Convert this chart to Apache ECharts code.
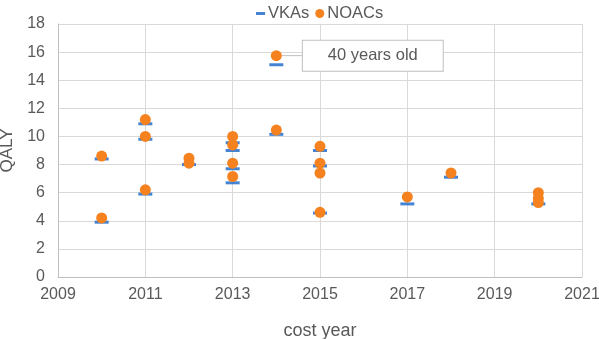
<!DOCTYPE html>
<html>
<head>
<meta charset="utf-8">
<script src="https://cdn.jsdelivr.net/npm/echarts@6/dist/echarts.min.js"></script>
<style>
  html, body { margin: 0; padding: 0; background: #fff; }
  #chart { width: 599px; height: 339px; }
</style>
</head>
<body>
<div id="chart"></div>
<script>
const vkaYears = [2010, 2010, 2011, 2011, 2011, 2012, 2013, 2013, 2013, 2013, 2014, 2014, 2015, 2015, 2015, 2017, 2018, 2020]
const vkaQaly = [8.4, 3.9, 10.9, 9.8, 5.9, 8.0, 9.55, 9.0, 7.7, 6.7, 15.1, 10.15, 9.0, 7.9, 4.55, 5.2, 7.1, 5.2]

const noacYears = [2010, 2010, 2011, 2011, 2011, 2012, 2012, 2013, 2013, 2013, 2013, 2014, 2014, 2015, 2015, 2015, 2015, 2017, 2018, 2020, 2020, 2020]
const noacQaly = [8.6, 4.2, 11.2, 10.0, 6.2, 8.45, 8.1, 10.0, 9.4, 8.1, 7.15, 15.75, 10.45, 9.3, 8.1, 7.4, 4.6, 5.7, 7.4, 6.0, 5.6, 5.3]

const calloutIndex = 11
const calloutText = '40 years old'

const textColor = '#595959'
const font = 'Liberation Sans, Arial, sans-serif'

const chart = echarts.init(document.getElementById('chart'))

const vkaData = vkaYears.map((y, i) => [y, vkaQaly[i]])
const noacData = noacYears.map((y, i) => {
  if (i !== calloutIndex) return [y, noacQaly[i]]
  return {
    value: [y, noacQaly[i]],
    label: {
      show: true,
      position: 'right',
      distance: 5,
      formatter: calloutText,
      color: textColor,
      fontSize: 16.5,
      fontFamily: font,
      backgroundColor: '#fff',
      borderColor: '#bfbfbf',
      borderWidth: 1,
      padding: [7, 25, 6, 25],
    },
    labelLine: { show: true, lineStyle: { color: '#bfbfbf', width: 1 } },
  }
})

const option = {
  animation: false,
  textStyle: { fontFamily: font },
  legend: {
    top: 0,
    left: 251,
    itemGap: 6,
    itemWidth: 9,
    itemHeight: 9,
    textStyle: { color: textColor, fontSize: 16.5, fontFamily: font, padding: [0, 0, 0, -2] },
    data: [
      { name: 'VKAs', icon: 'path://M0,3 H9 V6 H0 Z M0,0 H0.01 V0.01 H0 Z M9,9 H8.99 V8.99 H9 Z' },
      { name: 'NOACs', icon: 'circle' },
    ],
  },
  grid: { left: 58, right: 17, top: 24, bottom: 62, outerBoundsMode: 'none' },
  xAxis: {
    type: 'value',
    min: 2009,
    max: 2021,
    interval: 2,
    name: 'cost year',
    nameLocation: 'middle',
    nameGap: 45,
    nameTextStyle: { color: textColor, fontSize: 18, fontFamily: font },
    axisLine: { lineStyle: { color: '#bfbfbf' } },
    axisTick: { show: false },
    axisLabel: { color: textColor, fontSize: 16, margin: 10, formatter: (v) => String(v) },
    splitLine: { show: true, lineStyle: { color: '#d9d9d9' } },
  },
  yAxis: {
    type: 'value',
    min: 0,
    max: 18,
    interval: 2,
    name: 'QALY',
    nameLocation: 'middle',
    nameGap: 31,
    nameTextStyle: { color: textColor, fontSize: 17, fontFamily: font },
    axisLine: { show: true, lineStyle: { color: '#bfbfbf' } },
    axisTick: { show: false },
    axisLabel: { color: textColor, fontSize: 16, margin: 13 },
    splitLine: { show: true, lineStyle: { color: '#d9d9d9' } },
  },
  series: [
    {
      name: 'VKAs',
      type: 'scatter',
      symbol: 'rect',
      symbolSize: [14, 3],
      itemStyle: { color: '#1565c8' },
      data: vkaData,
    },
    {
      name: 'NOACs',
      type: 'scatter',
      symbol: 'circle',
      symbolSize: 11,
      itemStyle: { color: '#f5821f', opacity: 1 },
      labelLayout: (params) => (params.dataIndex === calloutIndex ? { dx: 16 } : {}),
      data: noacData,
    },
  ],
}

chart.setOption(option)
</script>
</body>
</html>
